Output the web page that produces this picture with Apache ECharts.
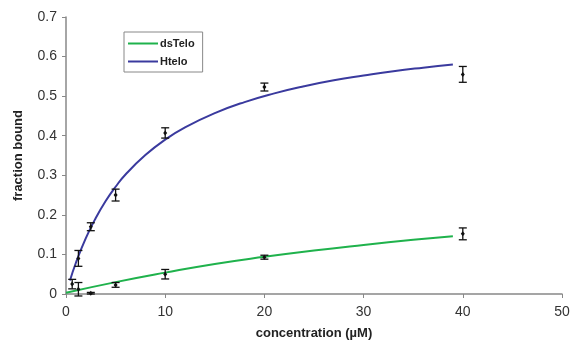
<!DOCTYPE html>
<html><head><meta charset="utf-8">
<script src="https://cdn.jsdelivr.net/npm/echarts@6/dist/echarts.min.js"></script>
<style>html,body{margin:0;padding:0;background:#fff}#c{width:574px;height:350px}</style>
</head><body><div id="c"></div>
<script>
// measured points: concentration (µM), fraction bound, error
const htConc = [0.625, 1.25, 2.5, 5, 10, 20, 40];
const htVal  = [0.025, 0.09, 0.17, 0.25, 0.407, 0.523, 0.555];
const htErr  = [0.012, 0.02, 0.01, 0.015, 0.013, 0.01, 0.02];
const dsConc = [1.25, 2.5, 5, 10, 20, 40];
const dsVal  = [0.012, 0.002, 0.023, 0.05, 0.093, 0.152];
const dsErr  = [0.017, 0.002, 0.006, 0.012, 0.005, 0.015];
// fitted curves
const htFitX = [0.4, 1, 2, 3, 4, 5, 6, 8, 10, 12, 15, 18, 21, 24, 27, 30, 33, 36, 39];
const htFitY = [0.034, 0.079, 0.141, 0.192, 0.235, 0.271, 0.302, 0.351, 0.390, 0.421, 0.457, 0.485, 0.507, 0.525, 0.540, 0.552, 0.563, 0.572, 0.580];
const dsFitX = [0, 5, 10, 15, 20, 25, 30, 35, 39];
const dsFitY = [0.003, 0.030, 0.054, 0.076, 0.094, 0.110, 0.124, 0.137, 0.146];
const xTicks = [0, 10, 20, 30, 40, 50];
const yTicks = [0, 0.1, 0.2, 0.3, 0.4, 0.5, 0.6, 0.7];

const pts = [];
htConc.forEach((c, i) => pts.push([c, htVal[i], htErr[i]]));
dsConc.forEach((c, i) => pts.push([c, dsVal[i], dsErr[i]]));

const chart = echarts.init(document.getElementById('c'), null, {renderer: 'canvas'});
const F = 'Liberation Sans, Arial, sans-serif';
chart.setOption({
  animation: false,
  backgroundColor: '#fff',
  grid: {left: 66, right: 12, top: 17, bottom: 56},
  legend: {
    left: 124, top: 32, orient: 'vertical',
    data: ['dsTelo', 'Htelo'],
    itemWidth: 30, itemHeight: 2, itemGap: 7,
    padding: [6, 8, 5, 4],
    borderColor: '#888', borderWidth: 1,
    textStyle: {fontFamily: F, fontSize: 11, fontWeight: 'bold', color: '#222', padding: [0,0,0,-3]},
    icon: 'rect'
  },
  xAxis: {
    type: 'value', min: 0, max: 50, interval: 10,
    name: 'concentration (µM)', nameLocation: 'middle', nameGap: 33,
    nameTextStyle: {fontFamily: F, fontSize: 13, fontWeight: 'bold', color: '#222'},
    axisLine: {lineStyle: {color: '#888', width: 1.5}},
    axisTick: {show: true, length: 4, lineStyle: {color: '#888'}},
    axisLabel: {fontFamily: F, fontSize: 14, color: '#333', margin: 11},
    splitLine: {show: false}
  },
  yAxis: {
    type: 'value', min: 0, max: 0.7, interval: 0.1,
    name: 'fraction bound', nameLocation: 'middle', nameGap: 41, nameRotate: 90,
    nameTextStyle: {fontFamily: F, fontSize: 13, fontWeight: 'bold', color: '#222'},
    axisLine: {show: true, lineStyle: {color: '#888', width: 1.5}},
    axisTick: {show: true, length: 4, lineStyle: {color: '#888'}},
    axisLabel: {fontFamily: F, fontSize: 14, color: '#333', margin: 9,
      formatter: v => (Math.round(v * 10) / 10).toString()},
    splitLine: {show: false}
  },
  series: [
    {name: 'dsTelo', type: 'line', smooth: true, symbol: 'none',
     data: dsFitX.map((x, i) => [x, dsFitY[i]]),
     lineStyle: {color: '#1fb24c', width: 2}, itemStyle: {color: '#1fb24c'}},
    {name: 'Htelo', type: 'line', smooth: true, symbol: 'none',
     data: htFitX.map((x, i) => [x, htFitY[i]]),
     lineStyle: {color: '#3a3a9e', width: 2}, itemStyle: {color: '#3a3a9e'}},
    {type: 'custom', data: pts, z: 10,
     renderItem: function (params, api) {
       const x = api.value(0), y = api.value(1), e = api.value(2);
       const p = api.coord([x, y]);
       const hi = api.coord([x, y + e]);
       const lo = api.coord([x, y - e]);
       const cw = 4;
       const st = {stroke: '#111', lineWidth: 1.3};
       return {type: 'group', children: [
         {type: 'line', shape: {x1: p[0], y1: hi[1], x2: p[0], y2: lo[1]}, style: st},
         {type: 'line', shape: {x1: p[0] - cw, y1: hi[1], x2: p[0] + cw, y2: hi[1]}, style: st},
         {type: 'line', shape: {x1: p[0] - cw, y1: lo[1], x2: p[0] + cw, y2: lo[1]}, style: st},
         {type: 'polygon', shape: {points: [[p[0], p[1] - 2.5], [p[0] + 2, p[1]], [p[0], p[1] + 2.5], [p[0] - 2, p[1]]]},
          style: {fill: '#111'}}
       ]};
     }}
  ]
});
</script></body></html>
